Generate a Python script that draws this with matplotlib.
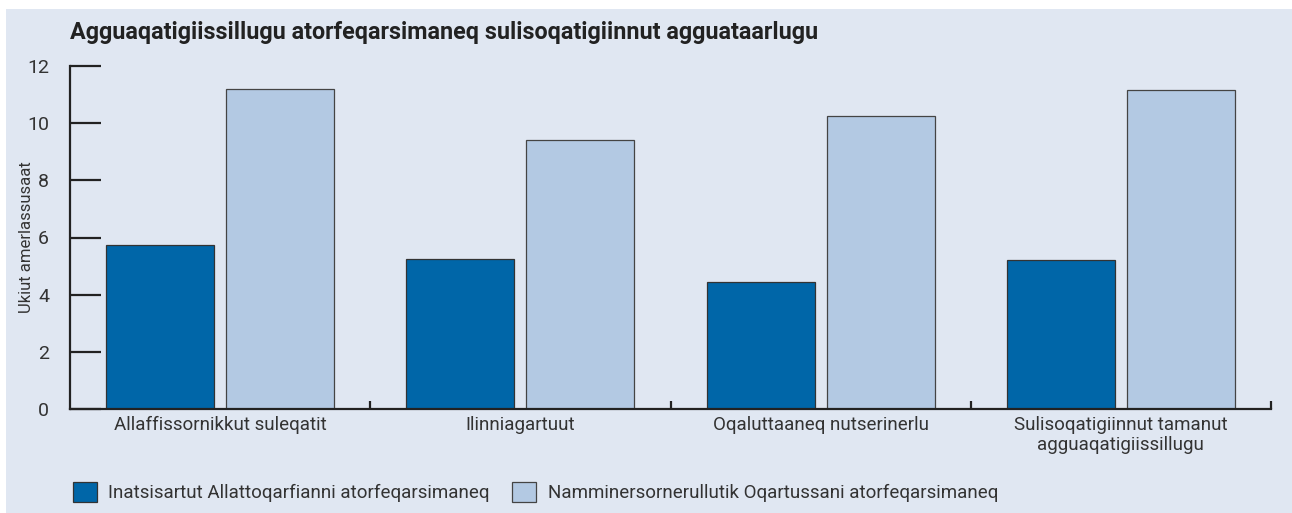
import matplotlib.pyplot as plt
import numpy as np
from matplotlib.patches import Rectangle, Patch

categories = ['Allaffissornikkut suleqatit', 'Ilinniagartuut', 'Oqaluttaaneq nutserinerlu',
              'Sulisoqatigiinnut tamanut\nagguaqatigiissillugu']
inatsisartut = [5.73, 5.24, 4.44, 5.21]
namminersorneq = [11.19, 9.41, 10.24, 11.15]
series_names = ['Inatsisartut Allattoqarfianni atorfeqarsimaneq',
                'Namminersornerullutik Oqartussani atorfeqarsimaneq']
title = 'Agguaqatigiissillugu atorfeqarsimaneq sulisoqatigiinnut agguataarlugu'
ylabel = 'Ukiut amerlassusaat'
yticks = [0, 2, 4, 6, 8, 10, 12]

dark = '#0066a8'
light = '#b3c9e3'
bg = '#e0e7f2'
ink = '#222222'
txt = '#333333'

plt.rcParams['font.family'] = ['Roboto', 'DejaVu Sans']

fig = plt.figure(figsize=(12.92, 5.13), dpi=100, facecolor='white')
fig.patches.append(Rectangle((6 / 1292, 0), 1, 1 - 9 / 513, transform=fig.transFigure,
                             facecolor=bg, edgecolor='none', zorder=-10))

ax = fig.add_axes([70 / 1292, 1 - 409 / 513, 1201 / 1292, 343 / 513])
ax.set_facecolor('none')

x = np.arange(len(categories))
ax.bar(x - 0.2, inatsisartut, width=0.36, color=dark, edgecolor='#333333', linewidth=0.9, zorder=2)
ax.bar(x + 0.2, namminersorneq, width=0.36, color=light, edgecolor='#444444', linewidth=0.9, zorder=2)

ax.set_xlim(-0.5, 3.5)
ax.set_ylim(0, 12)
for s in ['top', 'right']:
    ax.spines[s].set_visible(False)
for s in ['left', 'bottom']:
    ax.spines[s].set_color(ink)
    ax.spines[s].set_linewidth(1.6)

ax.set_yticks(yticks)
ax.tick_params(axis='y', direction='in', length=22, width=1.6, color=ink, pad=15,
               labelsize=14, labelcolor=txt)
ax.set_xticks(x)
ax.set_xticklabels(categories, fontsize=13.5, color=txt, linespacing=1.15)
ax.tick_params(axis='x', length=0, pad=5)
ax.set_xticks([0.5, 1.5, 2.5, 3.5], minor=True)
ax.tick_params(axis='x', which='minor', direction='in', length=6, width=1.6, color=ink)

ax.set_ylabel(ylabel, fontsize=12, color=txt)
ax.yaxis.set_label_coords(-0.030, 0.5)

fig.text(70 / 1292, 1 - 33 / 513, title, fontsize=16.8, fontweight='bold', color=ink,
         va='center', ha='left')

handles = [Patch(facecolor=dark, edgecolor='#333333', linewidth=0.9),
           Patch(facecolor=light, edgecolor='#444444', linewidth=0.9)]
fig.legend(handles, series_names, loc='center left', bbox_to_anchor=(73 / 1292, 1 - 492 / 513),
           ncol=2, frameon=False, fontsize=13.5, handlelength=1.28, handleheight=1.28,
           handletextpad=0.6, columnspacing=1.2, labelcolor=txt, borderpad=0, borderaxespad=0)

plt.savefig('out.png', dpi=100, facecolor=fig.get_facecolor())
